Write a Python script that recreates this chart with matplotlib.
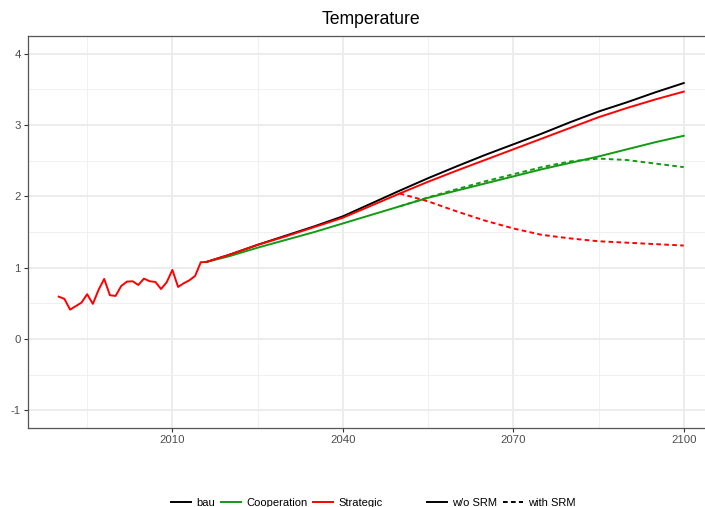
import matplotlib
matplotlib.use('Agg')
import matplotlib.pyplot as plt
from matplotlib.lines import Line2D
from matplotlib.ticker import MultipleLocator

plt.rcParams['font.family'] = ['Liberation Sans', 'DejaVu Sans']
plt.rcParams['axes.unicode_minus'] = False

# ---- data ----
hist_years = list(range(1990, 2017))
hist_temp = [0.593, 0.561, 0.411, 0.46, 0.509, 0.627, 0.491, 0.687, 0.842, 0.613,
             0.603, 0.743, 0.804, 0.809, 0.757, 0.846, 0.809, 0.80, 0.70, 0.795,
             0.968, 0.729, 0.781, 0.823, 0.884, 1.076, 1.08]

proj_years = [2016, 2020, 2025, 2030, 2035, 2040, 2045, 2050, 2055, 2060,
              2065, 2070, 2075, 2080, 2085, 2090, 2095, 2100]
bau = [1.08, 1.18, 1.32, 1.45, 1.58, 1.72, 1.90, 2.08, 2.255, 2.42,
       2.58, 2.73, 2.88, 3.04, 3.19, 3.32, 3.46, 3.59]
coop = [1.08, 1.16, 1.28, 1.39, 1.50, 1.62, 1.74, 1.86, 1.98, 2.08,
        2.18, 2.28, 2.38, 2.47, 2.56, 2.66, 2.76, 2.85]
strat = [1.08, 1.18, 1.32, 1.44, 1.57, 1.70, 1.87, 2.04, 2.205, 2.36,
         2.51, 2.66, 2.81, 2.96, 3.11, 3.24, 3.36, 3.47]

srm_years = [2050, 2055, 2060, 2065, 2070, 2075, 2080, 2085, 2090, 2095, 2100]
coop_srm = [1.86, 1.985, 2.10, 2.21, 2.31, 2.41, 2.49, 2.53, 2.51, 2.46, 2.41]
strat_srm = [2.04, 1.93, 1.79, 1.66, 1.55, 1.46, 1.41, 1.37, 1.35, 1.33, 1.31]

scenarios = ['bau', 'Cooperation', 'Strategic']
srm_labels = ['w/o SRM', 'with SRM']
colors = {'bau': 'black', 'Cooperation': '#129A12', 'Strategic': '#FF0000'}

# ---- figure ----
W, H = 705, 507
fig = plt.figure(figsize=(W / 100, H / 100), dpi=100)
ax = fig.add_axes([27.5 / W, (H - 428) / H, (715 - 27.5) / W, 392 / H])

lw = 1.4
dash = (2.4, 1.7)
ax.plot(hist_years, hist_temp, color=colors['Strategic'], lw=lw, zorder=3)
ax.plot(proj_years, bau, color=colors['bau'], lw=lw, zorder=3)
ax.plot(proj_years, coop, color=colors['Cooperation'], lw=lw, zorder=3)
ax.plot(srm_years, coop_srm, color=colors['Cooperation'], lw=lw, ls=(0, dash), zorder=3)
ax.plot(proj_years, strat, color=colors['Strategic'], lw=lw, zorder=3)
ax.plot(srm_years, strat_srm, color=colors['Strategic'], lw=lw, ls=(0, dash), zorder=3)

ax.set_xlim(1984.5, 2105.5)
ax.set_ylim(-1.25, 4.25)
ax.xaxis.set_major_locator(MultipleLocator(30))
ax.xaxis.set_minor_locator(MultipleLocator(15))
ax.yaxis.set_major_locator(MultipleLocator(1))
ax.yaxis.set_minor_locator(MultipleLocator(0.5))

ax.grid(which='major', color='#EBEBEB', lw=1.3, zorder=0)
ax.grid(which='minor', color='#EFEFEF', lw=0.65, zorder=0)
ax.set_axisbelow(True)

for s in ax.spines.values():
    s.set_color('#555555')
    s.set_linewidth(0.9)

ax.tick_params(which='major', length=2.7, width=0.8, color='#333333',
               labelcolor='#4D4D4D', labelsize=8.2, pad=2.2)
ax.tick_params(which='minor', length=0)

ax.set_title('Temperature', fontsize=12.7, pad=9, color='black')

# ---- legends ----
fs = 8
col_handles = [Line2D([], [], color=colors[s], lw=lw) for s in scenarios]
lt_handles = [Line2D([], [], color='black', lw=lw),
              Line2D([], [], color='black', lw=lw, ls=(0, dash))]
ly = (H - 502.7) / H
fig.legend(col_handles, scenarios, loc='center left',
           bbox_to_anchor=(171 / W, ly), ncol=3, frameon=False,
           fontsize=fs, handlelength=1.8, handletextpad=0.5,
           columnspacing=0.5, borderpad=0, borderaxespad=0)
fig.legend(lt_handles, srm_labels, loc='center left',
           bbox_to_anchor=(426.7 / W, ly), ncol=2, frameon=False,
           fontsize=fs, handlelength=1.8, handletextpad=0.5,
           columnspacing=0.5, borderpad=0, borderaxespad=0)

fig.savefig('out.png', dpi=100)
